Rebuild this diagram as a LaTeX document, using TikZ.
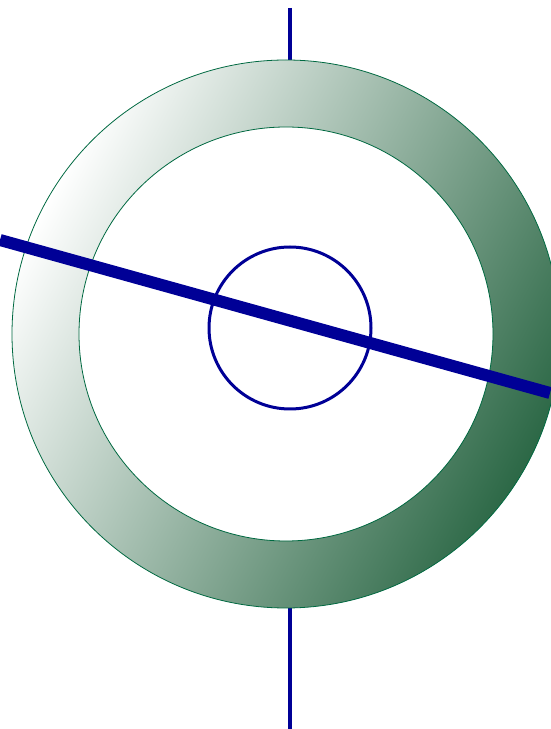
\documentclass[tikz,border=0pt]{standalone}
\definecolor{ringdark}{RGB}{44,104,70}
\definecolor{ringedge}{RGB}{0,105,65}
\definecolor{navy}{RGB}{0,0,150}
\tikzset{
  ring/.style={draw=ringedge,line width=0.8pt,top color=white,bottom color=ringdark,shading angle=62,even odd rule},
  axisline/.style={draw=navy,line width=4pt},
  thickline/.style={draw=navy,line width=12pt},
  smallring/.style={draw=navy,line width=3pt}
}
\begin{document}
\begin{tikzpicture}[x=1pt,y=1pt]
\useasboundingbox (0,0) rectangle (550,729);
\coordinate (C) at (286,395);
\coordinate (topend) at (290,721);
\coordinate (toptouch) at (290,669);
\coordinate (bottouch) at (290,121);
\coordinate (botend) at (290,0);
\coordinate (L) at (0,489);
\coordinate (R) at (550,336);
\node[circle,minimum size=162pt,inner sep=0pt] (small) at (290,401) {};
\draw[axisline] (topend) -- (toptouch);
\draw[axisline] (bottouch) -- (botend);
\shade[ring] (C) circle[radius=274] (C) circle[radius=207];
\draw[smallring] (small.center) circle[radius=81];
\draw[thickline] (L) -- (R);
\end{tikzpicture}
\end{document}
